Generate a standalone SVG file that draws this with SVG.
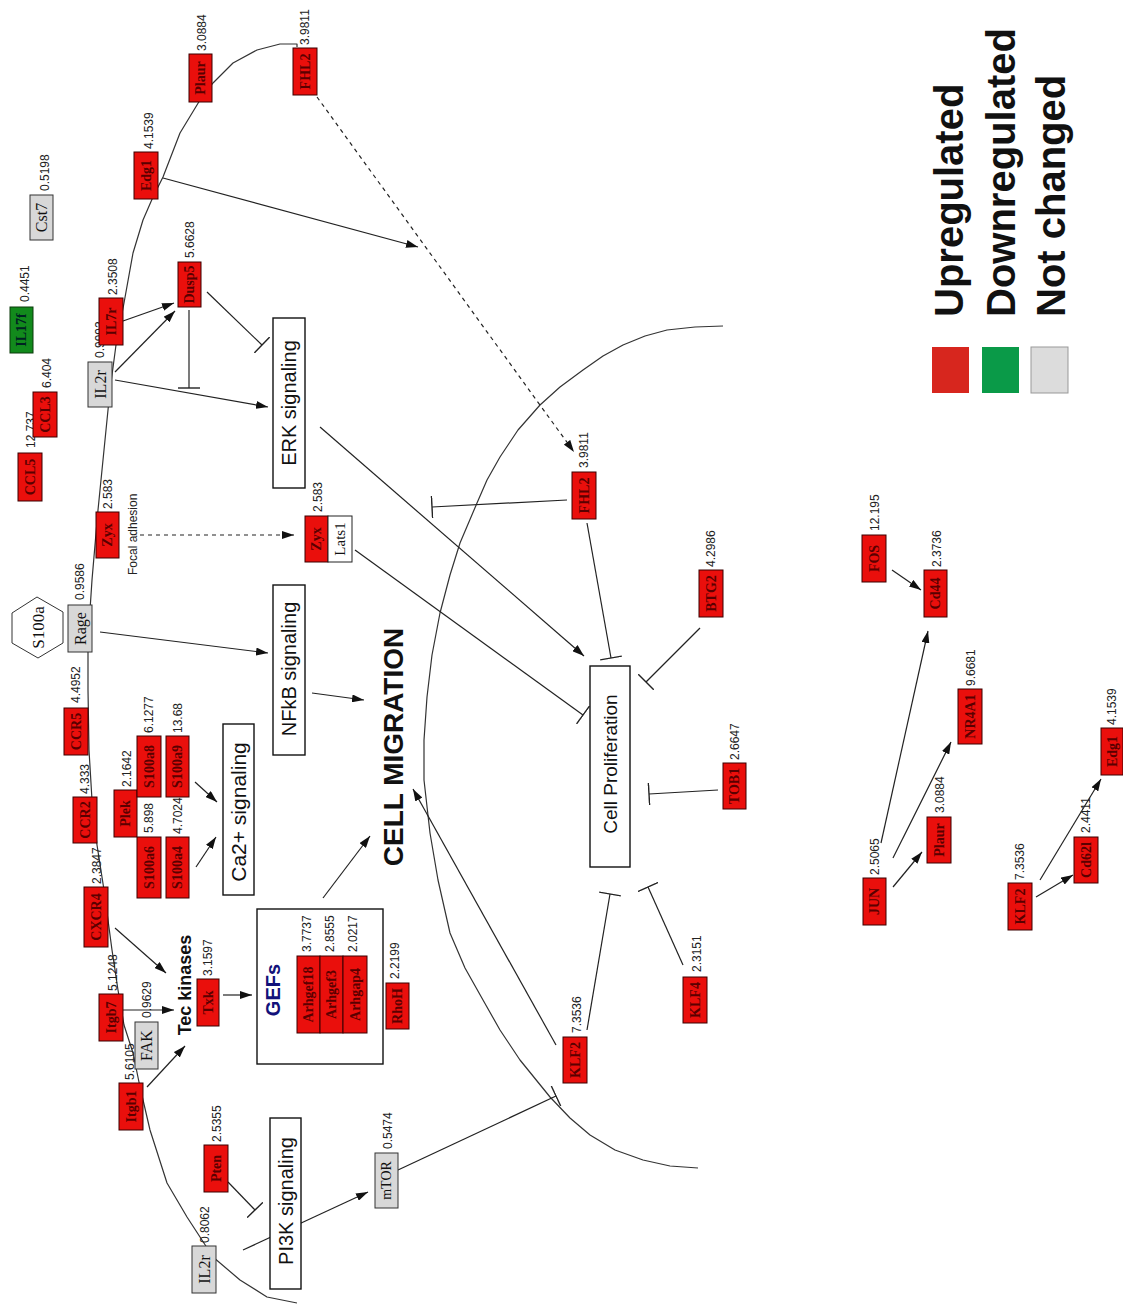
<svg xmlns="http://www.w3.org/2000/svg" width="1123" height="1305" viewBox="0 0 1123 1305">
<style>
.bg{fill:#fff}
.curve{fill:none;stroke:#333;stroke-width:1.2;stroke-linejoin:round}
.c{fill:none;stroke:#222;stroke-width:1.2}
.a{marker-end:url(#arr)}
.t{marker-end:url(#tee)}
.d{stroke-dasharray:4 4}
.up{fill:#ea0f0c;stroke:#3a0000;stroke-width:1}
.dn{fill:#128a1c;stroke:#0a3a0a;stroke-width:1}
.nc{fill:#d8d8d8;stroke:#333;stroke-width:1}
.wb{fill:#fff;stroke:#222;stroke-width:1}
.pw{fill:#fff;stroke:#111;stroke-width:1.4}
.lbl{font-family:"Liberation Serif",serif;font-weight:bold;font-size:14px;fill:#5a0000;text-anchor:middle;dominant-baseline:central}
.glb{font-family:"Liberation Serif",serif;font-size:16px;fill:#111;text-anchor:middle;dominant-baseline:central}
.num{font-family:"Liberation Sans",Arial,sans-serif;font-size:12px;fill:#222}
.pwt{font-family:"Liberation Sans",Arial,sans-serif;font-size:20px;fill:#111;text-anchor:middle;dominant-baseline:central}
.big{font-family:"Liberation Sans",Arial,sans-serif;font-weight:bold;fill:#111;text-anchor:middle;dominant-baseline:central}
.leg{font-family:"Liberation Sans",Arial,sans-serif;font-weight:bold;font-size:40px;fill:#111}
</style>
<defs>
<marker id="arr" viewBox="0 0 12 8" refX="12" refY="4" markerWidth="12" markerHeight="8" markerUnits="userSpaceOnUse" orient="auto"><path d="M0,0 L12,4 L0,8 z" fill="#111"/></marker>
<marker id="tee" viewBox="0 0 2 22" refX="1" refY="11" markerWidth="2" markerHeight="22" markerUnits="userSpaceOnUse" orient="auto"><path d="M1,0 L1,22" stroke="#222" stroke-width="1.4"/></marker>
</defs>
<rect class="bg" x="0" y="0" width="1123" height="1305"/>

<g id="membranes">
<polyline class="curve" points="297,47 297,44 280,44 257,50 233,63 213,83 200,100 180,133 163,177 153,197 143,220 133,253 124,303 116,345 110,390 104,450 98,510 92,580 88,640 88,690 89,750 92,800 97,845 104,890 112,950 118,990 124,1025 133,1053 140,1087 150,1130 167,1183 187,1217 213,1257 240,1280 267,1297 297,1303"/>
<polyline class="curve" points="723,326 695,327 667,330 645,336 623,345 603,356 583,370 560,387 540,405 518,430 500,457 487,480 477,503 460,543 450,575 440,613 432,655 427,697 424,740 424,780 430,833 438,880 450,933 465,968 483,1000 500,1030 520,1060 550,1097 570,1118 590,1135 615,1150 643,1160 670,1166 698,1168"/>
</g>

<g id="connectors">
<line class="c a" x1="123" y1="321" x2="174" y2="303"/>
<line class="c a" x1="115" y1="372" x2="175" y2="311"/>
<line class="c a" x1="115" y1="380" x2="268" y2="407"/>
<line class="c t" x1="189" y1="310" x2="189" y2="388"/>
<line class="c t" x1="207" y1="292" x2="262" y2="345"/>
<line class="c a" x1="163" y1="178" x2="418" y2="247"/>
<line class="c a d" x1="317" y1="97" x2="574" y2="452"/>
<line class="c a d" x1="140" y1="535" x2="294" y2="535"/>
<line class="c a" x1="100" y1="632" x2="268" y2="653"/>
<line class="c a" x1="312" y1="693" x2="364" y2="700"/>
<line class="c a" x1="195" y1="782" x2="217" y2="802"/>
<line class="c a" x1="196" y1="867" x2="216" y2="837"/>
<line class="c a" x1="323" y1="898" x2="370" y2="836"/>
<line class="c a" x1="115" y1="928" x2="166" y2="973"/>
<line class="c a" x1="123" y1="1010" x2="174" y2="1010"/>
<line class="c a" x1="147" y1="1087" x2="185" y2="1046"/>
<line class="c a" x1="223" y1="995" x2="252" y2="995"/>
<line class="c t" x1="228" y1="1182" x2="255" y2="1210"/>
<line class="c a" x1="243" y1="1250" x2="368" y2="1192"/>
<line class="c t" x1="398" y1="1170" x2="556" y2="1096"/>
<line class="c a" x1="556" y1="1045" x2="413" y2="789"/>
<line class="c t" x1="587" y1="1030" x2="610" y2="894"/>
<line class="c t" x1="683" y1="965" x2="648" y2="887"/>
<line class="c a" x1="320" y1="427" x2="584" y2="656"/>
<line class="c t" x1="567" y1="500" x2="432" y2="507"/>
<line class="c t" x1="587" y1="523" x2="611" y2="658"/>
<line class="c t" x1="355" y1="550" x2="583" y2="715"/>
<line class="c t" x1="700" y1="628" x2="646" y2="682"/>
<line class="c t" x1="718" y1="790" x2="649" y2="794"/>
<line class="c a" x1="892" y1="570" x2="921" y2="590"/>
<line class="c a" x1="881" y1="843" x2="928" y2="631"/>
<line class="c a" x1="893" y1="858" x2="951" y2="742"/>
<line class="c a" x1="893" y1="887" x2="922" y2="852"/>
<line class="c a" x1="1036" y1="897" x2="1073" y2="875"/>
<line class="c a" x1="1040" y1="880" x2="1101" y2="779"/>
</g>

<g id="pathways">
<g id="erk"><rect class="pw" x="273" y="318" width="32" height="170"/><text class="pwt" transform="translate(289,403) rotate(-90)">ERK signaling</text></g>
<g id="nfkb"><rect class="pw" x="273" y="585" width="32" height="170"/><text class="pwt" transform="translate(289,669) rotate(-90)">NFkB signaling</text></g>
<g id="ca"><rect class="pw" x="223" y="724" width="31" height="171"/><text class="pwt" style="font-size:21px" transform="translate(238.5,812) rotate(-90)">Ca2+ signaling</text></g>
<g id="pi3k"><rect class="pw" x="270" y="1118" width="31" height="171"/><text class="pwt" transform="translate(285.5,1201) rotate(-90)">PI3K signaling</text></g>
<g id="prolif"><rect class="pw" x="590" y="666" width="40" height="201"/><text class="pwt" style="font-size:19px" transform="translate(610,764) rotate(-90)">Cell Proliferation</text></g>
<g id="gefs"><rect class="pw" x="257" y="909" width="126" height="155"/><text class="big" style="font-size:20px;fill:#12127a" transform="translate(273,990) rotate(-90)">GEFs</text></g>
<g id="migration"><text class="big" style="font-size:28px" transform="translate(393,747) rotate(-90)">CELL MIGRATION</text></g>
<g id="tec"><text class="big" style="font-size:18px" transform="translate(185,985) rotate(-90)">Tec kinases</text></g>
<g id="focal"><text class="num" transform="translate(137,575) rotate(-90)">Focal adhesion</text></g>
</g>

<g id="nodes">
<g id="n-il17f"><rect class="dn" x="10" y="307" width="23" height="46"/><text class="lbl" style="fill:#022" transform="translate(21.5,330) rotate(-90)">IL17f</text><text class="num" transform="translate(29,302) rotate(-90)">0.4451</text></g>
<g id="n-cst7"><rect class="nc" x="30" y="195" width="23" height="45"/><text class="glb" transform="translate(41.5,217.5) rotate(-90)">Cst7</text><text class="num" transform="translate(49,191) rotate(-90)">0.5198</text></g>
<g id="n-il2r-top"><rect class="nc" x="88" y="362" width="24" height="45"/><text class="glb" transform="translate(100,384.5) rotate(-90)">IL2r</text><text class="num" transform="translate(104,358) rotate(-90)">0.9992</text></g>
<g id="n-il7r"><rect class="up" x="99" y="298" width="24" height="47"/><text class="lbl" transform="translate(111,321.5) rotate(-90)">IL7r</text><text class="num" transform="translate(117,295) rotate(-90)">2.3508</text></g>
<g id="n-edg1"><rect class="up" x="134" y="152" width="24" height="47"/><text class="lbl" transform="translate(146,175.5) rotate(-90)">Edg1</text><text class="num" transform="translate(153,149) rotate(-90)">4.1539</text></g>
<g id="n-plaur"><rect class="up" x="189" y="54" width="23" height="48"/><text class="lbl" transform="translate(200.5,78) rotate(-90)">Plaur</text><text class="num" transform="translate(206,51) rotate(-90)">3.0884</text></g>
<g id="n-fhl2-top"><rect class="up" x="293" y="48" width="24" height="47"/><text class="lbl" transform="translate(305,71.5) rotate(-90)">FHL2</text><text class="num" transform="translate(309,45) rotate(-90)">3.9811</text></g>
<g id="n-dusp5"><rect class="up" x="178" y="262" width="23" height="45"/><text class="lbl" transform="translate(189.5,284.5) rotate(-90)">Dusp5</text><text class="num" transform="translate(194,258) rotate(-90)">5.6628</text></g>
<g id="n-ccl5"><rect class="up" x="18" y="453" width="24" height="48"/><text class="lbl" transform="translate(30,477) rotate(-90)">CCL5</text><text class="num" transform="translate(35,448) rotate(-90)">12.737</text></g>
<g id="n-ccl3"><rect class="up" x="33" y="392" width="24" height="45"/><text class="lbl" transform="translate(45,414.5) rotate(-90)">CCL3</text><text class="num" transform="translate(51,388) rotate(-90)">6.404</text></g>
<g id="n-zyx"><rect class="up" x="96" y="512" width="23" height="46"/><text class="lbl" transform="translate(107.5,535) rotate(-90)">Zyx</text><text class="num" transform="translate(112,509) rotate(-90)">2.583</text></g>
<g id="n-s100a"><polygon points="37,597 63,612 63,643 38,658 12,643 12,613" fill="#fff" stroke="#333" stroke-width="1"/><text class="glb" style="font-size:17px" transform="translate(38,627.5) rotate(-90)">S100a</text></g>
<g id="n-rage"><rect class="nc" x="68" y="605" width="24" height="47"/><text class="glb" transform="translate(80,628.5) rotate(-90)">Rage</text><text class="num" transform="translate(84,600) rotate(-90)">0.9586</text></g>
<g id="n-ccr5"><rect class="up" x="64" y="708" width="24" height="47"/><text class="lbl" transform="translate(76,731.5) rotate(-90)">CCR5</text><text class="num" transform="translate(80,703) rotate(-90)">4.4952</text></g>
<g id="n-ccr2"><rect class="up" x="73" y="797" width="24" height="46"/><text class="lbl" transform="translate(85,820) rotate(-90)">CCR2</text><text class="num" transform="translate(89,794) rotate(-90)">4.333</text></g>
<g id="n-cxcr4"><rect class="up" x="84" y="887" width="24" height="60"/><text class="lbl" transform="translate(96,917) rotate(-90)">CXCR4</text><text class="num" transform="translate(101,884) rotate(-90)">2.3847</text></g>
<g id="n-plek"><rect class="up" x="114" y="790" width="23" height="47"/><text class="lbl" transform="translate(125.5,813.5) rotate(-90)">Plek</text><text class="num" transform="translate(131,787) rotate(-90)">2.1642</text></g>
<g id="n-s100a8"><rect class="up" x="137" y="736" width="24" height="61"/><text class="lbl" transform="translate(149,766.5) rotate(-90)">S100a8</text><text class="num" transform="translate(153,733) rotate(-90)">6.1277</text></g>
<g id="n-s100a9"><rect class="up" x="166" y="736" width="23" height="61"/><text class="lbl" transform="translate(177.5,766.5) rotate(-90)">S100a9</text><text class="num" transform="translate(182,733) rotate(-90)">13.68</text></g>
<g id="n-s100a6"><rect class="up" x="137" y="837" width="24" height="61"/><text class="lbl" transform="translate(149,867.5) rotate(-90)">S100a6</text><text class="num" transform="translate(153,833) rotate(-90)">5.898</text></g>
<g id="n-s100a4"><rect class="up" x="166" y="837" width="23" height="61"/><text class="lbl" transform="translate(177.5,867.5) rotate(-90)">S100a4</text><text class="num" transform="translate(182,834) rotate(-90)">4.7024</text></g>
<g id="n-itgb7"><rect class="up" x="99" y="994" width="24" height="47"/><text class="lbl" transform="translate(111,1017.5) rotate(-90)">Itgb7</text><text class="num" transform="translate(117,991) rotate(-90)">5.1248</text></g>
<g id="n-fak"><rect class="nc" x="135" y="1022" width="23" height="47"/><text class="glb" transform="translate(146.5,1045.5) rotate(-90)">FAK</text><text class="num" transform="translate(151,1018) rotate(-90)">0.9629</text></g>
<g id="n-itgb1"><rect class="up" x="119" y="1083" width="24" height="47"/><text class="lbl" transform="translate(131,1106.5) rotate(-90)">Itgb1</text><text class="num" transform="translate(134,1080) rotate(-90)">5.6105</text></g>
<g id="n-txk"><rect class="up" x="197" y="979" width="22" height="47"/><text class="lbl" transform="translate(208,1002.5) rotate(-90)">Txk</text><text class="num" transform="translate(212,976) rotate(-90)">3.1597</text></g>
<g id="n-arhgef18"><rect class="up" x="297" y="956" width="23" height="77"/><text class="lbl" transform="translate(308.5,994.5) rotate(-90)">Arhgef18</text><text class="num" transform="translate(311,952) rotate(-90)">3.7737</text></g>
<g id="n-arhgef3"><rect class="up" x="320" y="956" width="23" height="77"/><text class="lbl" transform="translate(331.5,994.5) rotate(-90)">Arhgef3</text><text class="num" transform="translate(334,952) rotate(-90)">2.8555</text></g>
<g id="n-arhgap4"><rect class="up" x="343" y="956" width="24" height="77"/><text class="lbl" transform="translate(355,994.5) rotate(-90)">Arhgap4</text><text class="num" transform="translate(357,952) rotate(-90)">2.0217</text></g>
<g id="n-rhoh"><rect class="up" x="386" y="983" width="23" height="46"/><text class="lbl" transform="translate(397.5,1006) rotate(-90)">RhoH</text><text class="num" transform="translate(399,979) rotate(-90)">2.2199</text></g>
<g id="n-pten"><rect class="up" x="204" y="1145" width="24" height="47"/><text class="lbl" transform="translate(216,1168.5) rotate(-90)">Pten</text><text class="num" transform="translate(221,1142) rotate(-90)">2.5355</text></g>
<g id="n-il2r-bottom"><rect class="nc" x="192" y="1246" width="24" height="47"/><text class="glb" transform="translate(204,1269.5) rotate(-90)">IL2r</text><text class="num" transform="translate(209,1243) rotate(-90)">0.8062</text></g>
<g id="n-mtor"><rect class="nc" x="375" y="1153" width="23" height="55"/><text class="glb" style="font-size:14px" transform="translate(386.5,1180.5) rotate(-90)">mTOR</text><text class="num" transform="translate(392,1149) rotate(-90)">0.5474</text></g>
<g id="n-zyx-lats1"><rect class="up" x="305" y="516" width="23" height="46"/><rect class="wb" x="328" y="516" width="24" height="46"/><text class="lbl" transform="translate(316.5,539) rotate(-90)">Zyx</text><text class="glb" style="font-size:15px" transform="translate(340,539) rotate(-90)">Lats1</text><text class="num" transform="translate(322,512) rotate(-90)">2.583</text></g>
<g id="n-fhl2-mid"><rect class="up" x="572" y="472" width="24" height="47"/><text class="lbl" transform="translate(584,495.5) rotate(-90)">FHL2</text><text class="num" transform="translate(588,468) rotate(-90)">3.9811</text></g>
<g id="n-klf2"><rect class="up" x="563" y="1037" width="24" height="46"/><text class="lbl" transform="translate(575,1060) rotate(-90)">KLF2</text><text class="num" transform="translate(581,1033) rotate(-90)">7.3536</text></g>
<g id="n-klf4"><rect class="up" x="683" y="977" width="24" height="46"/><text class="lbl" transform="translate(695,1000) rotate(-90)">KLF4</text><text class="num" transform="translate(701,972) rotate(-90)">2.3151</text></g>
<g id="n-btg2"><rect class="up" x="699" y="570" width="24" height="47"/><text class="lbl" transform="translate(711,593.5) rotate(-90)">BTG2</text><text class="num" transform="translate(715,567) rotate(-90)">4.2986</text></g>
<g id="n-tob1"><rect class="up" x="723" y="763" width="23" height="46"/><text class="lbl" transform="translate(734.5,786) rotate(-90)">TOB1</text><text class="num" transform="translate(739,760) rotate(-90)">2.6647</text></g>
<g id="n-fos"><rect class="up" x="862" y="535" width="24" height="47"/><text class="lbl" transform="translate(874,558.5) rotate(-90)">FOS</text><text class="num" transform="translate(879,531) rotate(-90)">12.195</text></g>
<g id="n-cd44"><rect class="up" x="924" y="570" width="23" height="47"/><text class="lbl" transform="translate(935.5,593.5) rotate(-90)">Cd44</text><text class="num" transform="translate(941,567) rotate(-90)">2.3736</text></g>
<g id="n-nr4a1"><rect class="up" x="958" y="689" width="24" height="55"/><text class="lbl" transform="translate(970,716.5) rotate(-90)">NR4A1</text><text class="num" transform="translate(975,686) rotate(-90)">9.6681</text></g>
<g id="n-jun"><rect class="up" x="863" y="878" width="23" height="47"/><text class="lbl" transform="translate(874.5,901.5) rotate(-90)">JUN</text><text class="num" transform="translate(879,875) rotate(-90)">2.5065</text></g>
<g id="n-plaur-r"><rect class="up" x="927" y="817" width="24" height="46"/><text class="lbl" transform="translate(939,840) rotate(-90)">Plaur</text><text class="num" transform="translate(944,813) rotate(-90)">3.0884</text></g>
<g id="n-klf2-r"><rect class="up" x="1008" y="883" width="24" height="47"/><text class="lbl" transform="translate(1020,906.5) rotate(-90)">KLF2</text><text class="num" transform="translate(1024,880) rotate(-90)">7.3536</text></g>
<g id="n-cd62l"><rect class="up" x="1074" y="837" width="24" height="46"/><text class="lbl" transform="translate(1086,860) rotate(-90)">Cd62l</text><text class="num" transform="translate(1090,833) rotate(-90)">2.4411</text></g>
<g id="n-edg1-r"><rect class="up" x="1101" y="728" width="22" height="47"/><text class="lbl" transform="translate(1112,751.5) rotate(-90)">Edg1</text><text class="num" transform="translate(1116,725) rotate(-90)">4.1539</text></g>
</g>

<g id="legend">
<rect x="932" y="347" width="37" height="46" fill="#d7261e"/>
<rect x="982" y="347" width="37" height="46" fill="#0a9a48"/>
<rect x="1031" y="347" width="37" height="46" fill="#dcdcdc" stroke="#999" stroke-width="1"/>
<text class="leg" transform="translate(963,317) rotate(-90)">Upregulated</text>
<text class="leg" transform="translate(1015,317) rotate(-90)">Downregulated</text>
<text class="leg" transform="translate(1065,317) rotate(-90)">Not changed</text>
</g>
</svg>
